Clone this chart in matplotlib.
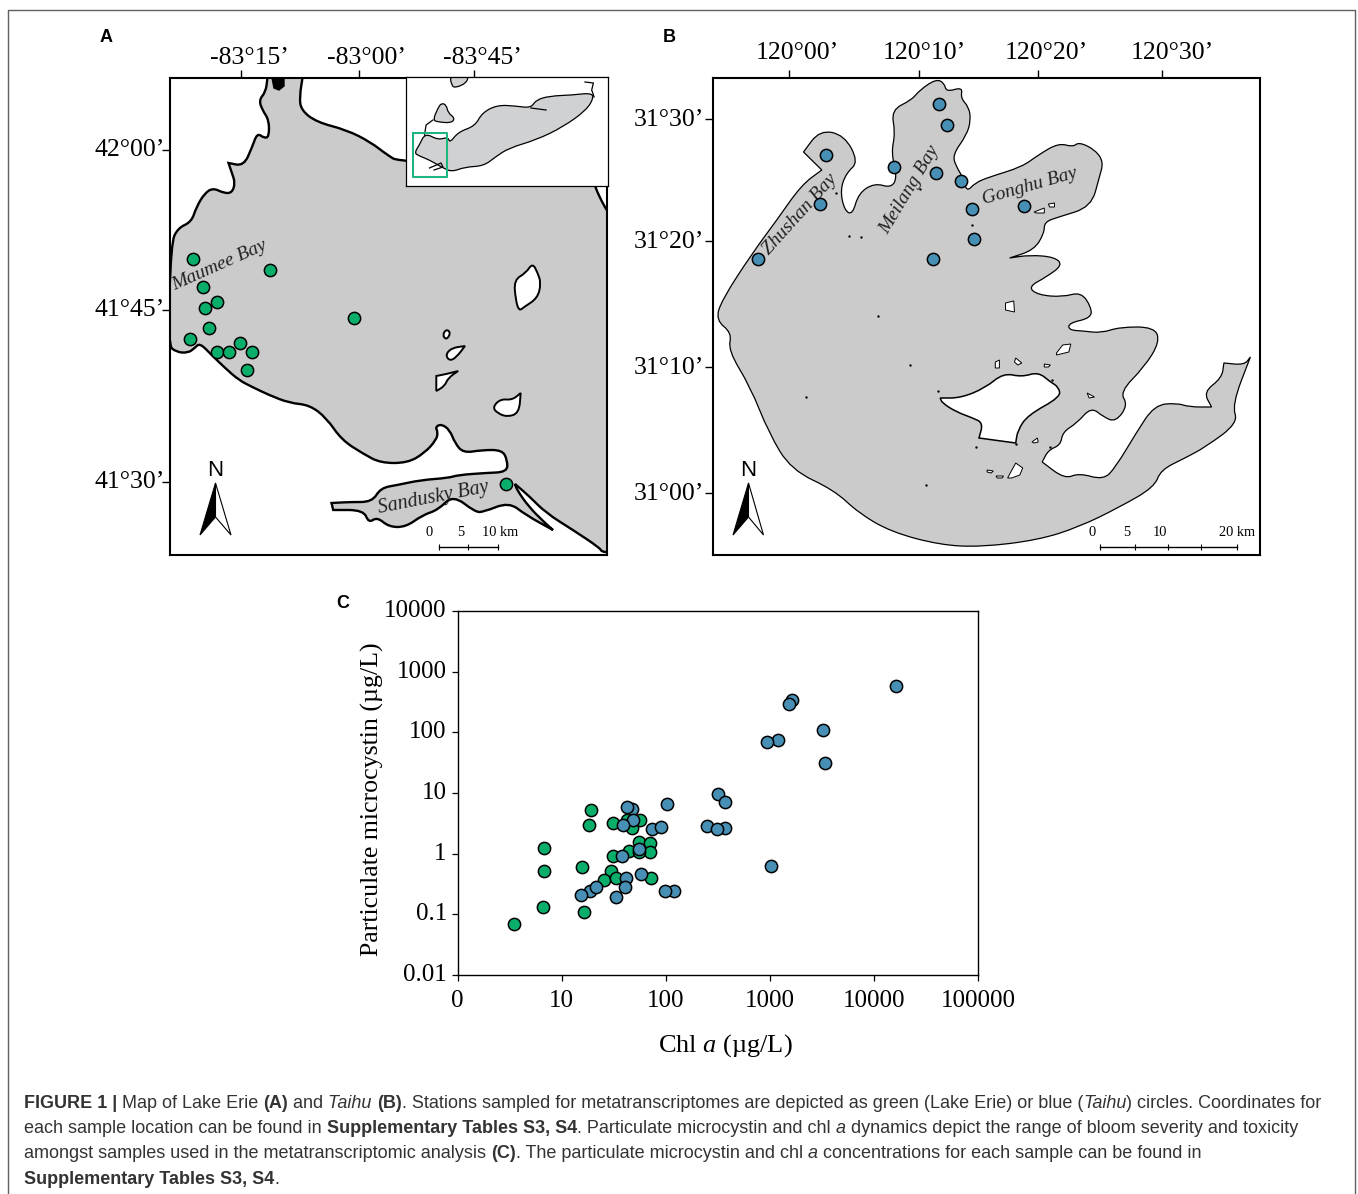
import numpy as np
import matplotlib
matplotlib.use('Agg')
import matplotlib.pyplot as plt
from matplotlib.path import Path
from matplotlib.patches import PathPatch
from matplotlib.transforms import ScaledTranslation

plt.rcParams['font.family'] = 'Liberation Serif'
plt.rcParams['mathtext.fontset'] = 'custom'
plt.rcParams['mathtext.rm'] = 'Liberation Serif'
plt.rcParams['mathtext.it'] = 'Liberation Serif:italic'

W, H = 1358, 1194
VERDE = '#0AAE6B'
AZUL = '#478FB4'
CINZA = '#CBCBCB'

# Painel C: valores
erie_chl = [3.5, 6.64, 6.84, 6.84, 16.3, 15.8, 18.4, 19.2, 30.9, 31.2, 29.9, 25.8, 33.3, 44, 42.5, 56.2, 47.4, 55, 70.6, 70.6, 55, 72.8]
erie_mc = [0.07, 0.131, 0.524, 1.24, 0.111, 0.61, 2.93, 5.24, 3.16, 0.9, 0.524, 0.372, 0.393, 1.11, 3.59, 3.59, 2.62, 1.56, 1.52, 1.08, 1.08, 0.397]
taihu_chl = [16200, 1630, 1513, 3252, 1204, 950, 3425, 320, 373, 249, 373, 308, 1038, 102, 47.8, 42.8, 48.9, 38.6, 73.3, 89.4, 55, 38, 57.9, 41.2, 40.7, 33, 18.9, 21.4, 15.5, 121, 97.7]
taihu_mc = [587, 345, 293, 110, 74.7, 68.5, 30.8, 9.62, 7.1, 2.82, 2.65, 2.52, 0.62, 6.59, 5.5, 5.81, 3.63, 2.97, 2.55, 2.78, 1.18, 0.925, 0.457, 0.397, 0.279, 0.191, 0.245, 0.282, 0.211, 0.243, 0.243]
xticks_c = [1, 10, 100, 1000, 10000, 100000]
xlabels_c = ['0', '10', '100', '1000', '10000', '100000']
yticks_c = [0.01, 0.1, 1, 10, 100, 1000, 10000]
ylabels_c = ['0.01', '0.1', '1', '10', '100', '1000', '10000']

# Painel A: contorno do lago (coordenadas da imagem)
erie_coast = [(267.4, 79), (265.6, 92), (259, 100), (262.3, 110), (269, 120), (269, 137), (264, 138), (257.2, 133),
              (252.2, 147), (243.7, 166), (228.5, 163), (228.5, 163), (231.9, 173), (235.2, 183), (231.9, 193), (223.5, 193),
              (213.3, 188), (204.8, 193), (196.4, 207), (191.4, 222), (177.9, 228), (171, 243), (168, 345),
              (176, 352), (188, 353), (194.7, 348), (199.8, 343), (211.6, 355), (225.1, 368), (238.7, 380),
              (252.2, 387), (269, 395), (289.4, 403), (309.6, 405), (326.5, 418), (341.7, 440), (363.6, 454),
              (380.6, 463), (407.5, 463), (424.5, 453), (436.3, 440), (437.9, 432), (435.3, 427), (441.4, 424),
              (449.8, 430), (454.9, 443), (463.3, 453), (481.9, 450), (502.2, 450), (507.3, 460), (507.3, 472),
              (485.3, 473), (458.2, 475), (448.1, 478), (421.1, 480), (397.4, 485), (380.6, 488), (372.1, 502),
              (350.2, 502), (331.5, 503), (331.5, 503), (333.2, 510), (333.2, 510), (363.6, 510), (368.7, 523), (377.1, 517), (389, 527),
              (405.9, 527), (422.7, 515), (437.9, 510), (453.1, 495), (475.1, 512), (483.5, 512), (508.9, 502),
              (525.8, 515), (553, 530), (553, 530), (544, 522), (529, 507), (517, 490), (515, 484), (515, 484), (529, 496), (546, 513),
              (573, 530), (600, 548), (601.8, 552), (610, 552), (610, 552), (610, 215), (610, 215), (603.5, 205), (595, 187),
              (590, 170), (399.1, 162), (387.3, 155), (370.4, 142), (346.7, 130), (316.3, 122), (301.1, 110),
              (299.5, 97), (302.8, 76), (302.8, 76), (267.4, 76), (267.4, 76)]
erie_blob = [(272, 78), (284, 78), (284, 86), (279, 90), (274, 88)]
erie_ilhas = [
    [(532.6, 263), (537.7, 273), (541, 283), (537.7, 298), (524.1, 307), (519, 311), (515.7, 300), (514, 280), (525.8, 273)],
    [(446.4, 329), (450.8, 333), (446.4, 340), (442.4, 335)],
    [(465, 346), (465, 346), (456.6, 357), (449.8, 361), (445.4, 355), (451.5, 348)],
    [(458.2, 371), (458.2, 371), (448.1, 378), (444.7, 386), (436.3, 391), (436.3, 391), (436.3, 376), (436.3, 376), (446.4, 374)],
    [(520.7, 393), (520.7, 393), (519, 413), (507.3, 417), (497.1, 413), (492.7, 407), (500.5, 399), (512.3, 400)],
]
est_a_x = [193, 270, 203, 217, 205, 354, 209, 190, 240, 217, 229, 252, 247, 506]
est_a_y = [259, 270, 287, 302, 308, 318, 328, 339, 343, 352, 352, 352, 370, 484]
xticks_a = [241, 358.6, 473.5]
xlabels_a = ['-83°15’', '-83°00’', '-83°45’']
xlabel_pos_a = [249, 367, 482]
yticks_a = [150, 310, 482]
ylabels_a = ['42°00’', '41°45’', '41°30’']

# Detalhe do lago inteiro
inset_lago = [(414.3, 153), (419.4, 145), (425.1, 133), (438, 140), (448.1, 137), (449.8, 143), (458.2, 132), (475.1, 126),
              (481.9, 113), (497.1, 105), (515.7, 106), (530.9, 108), (536, 100), (549.5, 96), (573.1, 95), (590, 93),
              (594.1, 97), (586.6, 110), (563, 127), (536, 140), (508.9, 148), (495.4, 157), (483.6, 166), (465, 167),
              (451.5, 172), (441.4, 167), (429.5, 160), (419.4, 156)]
inset_huron = [(449.8, 75), (468.4, 75), (466.7, 83), (454.9, 88), (451.5, 85)]
inset_clair = [(441.4, 103), (446.4, 105), (448.1, 113), (454.9, 118), (451.5, 123), (438, 122), (432.9, 120), (438, 108)]
inset_linhas = [
    [(432.9, 120), (426.1, 125), (424.5, 135)],
    [(585, 82), (593.4, 83), (591.7, 90), (594.1, 97)],
    [(530.9, 108), (546.1, 110)],
    [(429.5, 168), (441, 163), (443, 167), (434, 170)],
]
inset_caixa = [(412.6, 133), (446.8, 133), (446.8, 176.5), (412.6, 176.5), (412.6, 133)]

# Painel B: contorno do Taihu
taihu_coast = [(936.1, 79), (944.3, 83), (946.3, 92), (962.7, 87), (960.6, 98), (968.8, 107), (970.8, 120), (966.7, 135),
               (952.4, 155), (956.5, 167), (962.7, 177), (966.7, 192), (974.9, 183), (989.2, 177), (1021.8, 167),
               (1038.2, 155), (1058.6, 143), (1072.9, 147), (1079, 142), (1095.3, 150), (1103.5, 162), (1099.4, 177),
               (1091.2, 207), (1058.6, 217), (1044.3, 222), (1044.3, 233), (1034.1, 250), (1009.6, 258), (1009.6, 258), (1030, 255),
               (1054.5, 257), (1062.7, 265), (1046.3, 277), (1028, 287), (1038.2, 295), (1062.7, 297), (1081, 292),
               (1091.2, 307), (1091.2, 318), (1068.8, 323), (1068.8, 330), (1083.1, 331), (1101.4, 333), (1119.8, 327),
               (1154.5, 327), (1159.8, 342), (1144.3, 367), (1119.8, 392), (1128, 405), (1115.7, 422), (1103.5, 417),
               (1091.2, 407), (1077, 423), (1062.7, 432), (1060.6, 445), (1048.4, 450), (1042.2, 462), (1042.2, 462), (1064.7, 479),
               (1079, 473), (1103.5, 480), (1115.7, 467), (1136.1, 433), (1154.5, 405), (1176.9, 403), (1189.2, 407),
               (1211.6, 407), (1211.6, 407), (1203.5, 392), (1221.8, 378), (1223.9, 363), (1223.9, 363), (1244.3, 365), (1250.4, 357), (1250.4, 357), (1232, 405),
               (1238.2, 423), (1205.5, 447), (1185.1, 458), (1160.6, 470), (1154.5, 487), (1119.8, 507), (1079, 527),
               (1038.2, 540), (981, 547), (940.2, 545), (891.2, 532), (858.6, 513), (834.1, 490), (791.2, 470),
               (768.8, 433), (750.4, 387), (728, 350), (732, 333), (715.7, 320), (721.8, 300), (752.4, 253), (776.9, 220),
               (801.4, 185), (821.8, 170), (821.8, 170), (803.5, 152), (803.5, 152), (819.8, 130), (844.3, 135), (858.6, 162), (846.3, 173),
               (840.2, 190), (844.3, 210), (852.4, 215), (858.6, 193), (874.9, 183), (891.2, 188), (897.3, 177),
               (891.2, 153), (895.3, 133), (891.2, 110), (911.6, 100), (919.8, 90)]
taihu_grande = [(940.2, 398), (940.2, 398), (960.6, 398), (985.1, 388), (1003.5, 373), (1021.8, 377), (1038.2, 372), (1050.4, 382), (1058.6, 387),
                (1060.6, 397), (1028, 415), (1017.8, 430), (1015.7, 443), (1015.7, 443), (979, 438), (979, 438), (983.1, 423), (972.9, 418), (956.5, 412), (942.2, 403)]
taihu_ilhas = [
    [(1005.5, 303), (1013.7, 301), (1014.5, 312), (1005.5, 310)],
    [(1056.5, 353), (1062.7, 345), (1070.8, 344), (1068.8, 352), (1056.5, 355)],
    [(995.3, 362), (999.4, 360), (999.4, 368), (995.3, 368)],
    [(1015.7, 358), (1021.8, 363), (1017.8, 365), (1014.5, 362)],
    [(1044.3, 364), (1050.4, 365), (1048.4, 367), (1044.3, 367)],
    [(1087.1, 393), (1094.5, 397), (1089.2, 398)],
    [(1007.6, 478), (1015.7, 463), (1022.7, 468), (1019.8, 475), (1011.6, 478)],
    [(987.1, 470), (993.3, 471), (991.2, 473), (987.1, 472)],
    [(996.1, 476), (1003.5, 476), (1002.2, 478), (997.3, 478)],
    [(1032, 442), (1037.3, 438), (1038.2, 442), (1034.1, 443)],
    [(1034.1, 212), (1044.3, 208), (1044.3, 213), (1036.1, 213)],
    [(1048.4, 204), (1054.5, 203), (1054.5, 207), (1049.6, 207)],
]
pontinhos_x = [877.8, 909.6, 805.5, 938.2, 925.9, 1049.6, 1015.7, 976.1, 860.6, 849.2, 972, 836, 919.8, 1052.4]
pontinhos_y = [316, 365, 396.7, 390.7, 484.7, 446.7, 444, 446.7, 236.7, 235.7, 225, 193, 189.3, 380]
est_b_x = [826, 820, 758, 894, 936, 939, 947, 961, 972, 974, 933, 1024]
est_b_y = [155, 204, 259, 167, 173, 104, 125, 181, 209, 239, 259, 206]
xticks_b = [789.2, 918.6, 1038.2, 1161.8]
xlabels_b = ['120°00’', '120°10’', '120°20’', '120°30’']
xlabel_pos_b = [797, 924, 1046, 1172]
yticks_b = [119, 241, 367, 493]
ylabels_b = ['31°30’', '31°20’', '31°10’', '31°00’']

# Legenda
legenda = [
    [('FIGURE 1 | ', 'bold', 'normal'), ('Map of Lake Erie ', 'normal', 'normal'), ('(A)', 'bold', 'normal'),
     (' and ', 'normal', 'normal'), ('Taihu ', 'normal', 'italic'), ('(B)', 'bold', 'normal'),
     ('. Stations sampled for metatranscriptomes are depicted as green (Lake Erie) or blue (', 'normal', 'normal'),
     ('Taihu', 'normal', 'italic'), (') circles. Coordinates for', 'normal', 'normal')],
    [('each sample location can be found in ', 'normal', 'normal'), ('Supplementary Tables S3, S4', 'bold', 'normal'),
     ('. Particulate microcystin and chl ', 'normal', 'normal'), ('a', 'normal', 'italic'),
     (' dynamics depict the range of bloom severity and toxicity', 'normal', 'normal')],
    [('amongst samples used in the metatranscriptomic analysis ', 'normal', 'normal'), ('(C)', 'bold', 'normal'),
     ('. The particulate microcystin and chl ', 'normal', 'normal'), ('a', 'normal', 'italic'),
     (' concentrations for each sample can be found in', 'normal', 'normal')],
    [('Supplementary Tables S3, S4', 'bold', 'normal'), ('.', 'normal', 'normal')],
]
legenda_y = [1108, 1133, 1158.5, 1184]


def eixo_px(fig, esq, topo, dir, base):
    # eixo posicionado em pixels, com limites iguais aos pixels da imagem
    ax = fig.add_axes([esq / W, 1 - base / H, (dir - esq) / W, (base - topo) / H])
    ax.set_xlim(esq, dir)
    ax.set_ylim(base, topo)
    return ax


def contorno(ax, pts, cor, lw, z=2):
    # contorno fechado suavizado com curvas quadraticas entre os pontos medios
    pts = np.array(pts, dtype=float)
    prox = np.roll(pts, -1, axis=0)
    meios = (pts + prox) / 2
    verts = [meios[-1]]
    codes = [Path.MOVETO]
    for c, m in zip(pts, meios):
        verts += [c, m]
        codes += [Path.CURVE3, Path.CURVE3]
    ax.add_patch(PathPatch(Path(verts, codes), facecolor=cor, edgecolor='black', linewidth=lw, zorder=z))


def norte(ax, x, esq, dir):
    ax.fill([x, esq, x], [483, 535, 517], facecolor='black', edgecolor='black', linewidth=0.8, zorder=4)
    ax.fill([x, dir, x], [483, 535, 517], facecolor='white', edgecolor='black', linewidth=0.8, zorder=4)
    ax.text(x, 470, 'N', family='Liberation Sans', fontsize=16, ha='center', va='center', zorder=4)


def barra(ax, ticks, y):
    ax.plot([ticks[0], ticks[-1]], [y, y], color='black', lw=1, zorder=4)
    ax.vlines(ticks, y - 3, y + 3, color='black', lw=0.8, zorder=4)


def sobe_labels(ax, px):
    desloc = ScaledTranslation(0, px / 100, ax.figure.dpi_scale_trans)
    for lbl in ax.get_yticklabels():
        lbl.set_transform(lbl.get_transform() + desloc)


def estilo_mapa(ax, xticks, xlabels, xpos, ylabel_y, yticks, ylabels, pad):
    ax.xaxis.tick_top()
    ax.set_xticks(xticks)
    ax.set_xticklabels([])
    ax.set_yticks(yticks)
    ax.set_yticklabels(ylabels, fontsize=18.5)
    ax.tick_params(axis='both', length=5.5, width=1, color='black')
    ax.tick_params(axis='y', pad=pad)
    sobe_labels(ax, 2)
    for lado in ax.spines.values():
        lado.set_linewidth(1.5)
    for p, txt in zip(xpos, xlabels):
        ax.text(p, ylabel_y, txt, fontsize=18.5, ha='center', va='center', clip_on=False)


fig = plt.figure(figsize=(W / 100, H / 100), dpi=100)

# fundo: moldura, letras e legenda
fundo = fig.add_axes([0, 0, 1, 1])
fundo.set_xlim(0, W)
fundo.set_ylim(H, 0)
fundo.axis('off')
fundo.plot([8, 8, 1355, 1355], [H, 9.5, 9.5, H], color='#606060', lw=1)
for letra, lx, ly in [('A', 106, 37), ('B', 669, 37), ('C', 343, 604)]:
    fundo.text(lx, ly, letra, family='Liberation Sans', weight='bold', fontsize=13, ha='center', va='center')

rend = fig.canvas.get_renderer()
for linha, ly in zip(legenda, legenda_y):
    cx = 24
    for txt, peso, estilo in linha:
        fundo.text(cx, ly, txt, family='Liberation Sans', weight=peso, style=estilo, fontsize=12.95,
                   color='#333333', ha='left', va='baseline')
        # espacos no fim nao contam no extent, mede com um ponto no final
        t2 = fundo.text(0, 0, txt + '.', family='Liberation Sans', weight=peso, style=estilo, fontsize=12.95, alpha=0)
        t3 = fundo.text(0, 0, '.', family='Liberation Sans', weight=peso, style=estilo, fontsize=12.95, alpha=0)
        cx += t2.get_window_extent(rend).width - t3.get_window_extent(rend).width
        t2.remove()
        t3.remove()

# Painel A
ax_a = eixo_px(fig, 170, 78, 607, 555)
contorno(ax_a, erie_coast, CINZA, 1.7)
ax_a.fill([p[0] for p in erie_blob], [p[1] for p in erie_blob], color='black', zorder=3)
for ilha in erie_ilhas:
    contorno(ax_a, ilha, 'white', 1.4, 3)
ax_a.scatter(est_a_x, est_a_y, s=78, color=VERDE, edgecolor='black', linewidth=1.1, zorder=5)
estilo_mapa(ax_a, xticks_a, xlabels_a, xlabel_pos_a, 58, yticks_a, ylabels_a, -2)
ax_a.text(219, 265, 'Maumee Bay', style='italic', fontsize=14, rotation=24, ha='center', va='center', color='#222222', zorder=4)
ax_a.text(433, 498, 'Sandusky Bay', style='italic', fontsize=14.5, rotation=11, ha='center', va='center', color='#222222', zorder=4)
norte(ax_a, 215.5, 200, 231)
barra(ax_a, [439, 468.4, 498], 546.7)
for p, txt in zip([429.5, 460.6, 500], ['0', '5', '10 km']):
    ax_a.text(p, 532, txt, fontsize=10.4, ha='center', va='center', zorder=4)

# Detalhe
ins = eixo_px(fig, 406, 77, 608, 186)
ins.set_xticks([])
ins.set_yticks([])
for lado in ins.spines.values():
    lado.set_linewidth(0.9)
for forma in [inset_lago, inset_huron, inset_clair]:
    contorno(ins, forma, '#D0D1D3', 0.9)
for lin in inset_linhas:
    lin = np.array(lin)
    ins.plot(lin[:, 0], lin[:, 1], color='black', lw=0.9, zorder=3)
caixa = np.array(inset_caixa)
ins.plot(caixa[:, 0], caixa[:, 1], color='#1FB57E', lw=1.5, zorder=4)

# Painel B
ax_b = eixo_px(fig, 713, 78, 1260, 555)
contorno(ax_b, taihu_coast, CINZA, 0.9)
contorno(ax_b, taihu_grande, 'white', 1.1, 3)
for ilha in taihu_ilhas:
    # ilhas pequenas ficam sem suavizar para nao encolher
    ilha = np.array(ilha)
    ax_b.fill(ilha[:, 0], ilha[:, 1], facecolor='white', edgecolor='black', linewidth=0.7, zorder=3)
ax_b.scatter(pontinhos_x, pontinhos_y, s=3, color='black', linewidth=0, zorder=3)
ax_b.scatter(est_b_x, est_b_y, s=78, color=AZUL, edgecolor='black', linewidth=1.1, zorder=5)
estilo_mapa(ax_b, xticks_b, xlabels_b, xlabel_pos_b, 53, yticks_b, ylabels_b, 1)
ax_b.text(800, 214, 'Zhushan Bay', style='italic', fontsize=14, rotation=48, ha='center', va='center', color='#222222', zorder=4)
ax_b.text(910, 190, 'Meilang Bay', style='italic', fontsize=14, rotation=59, ha='center', va='center', color='#222222', zorder=4)
ax_b.text(1030, 186, 'Gonghu Bay', style='italic', fontsize=14, rotation=16, ha='center', va='center', color='#222222', zorder=4)
norte(ax_b, 748.5, 733, 763.5)
barra(ax_b, [1100.2, 1134.5, 1168.4, 1201.4, 1237], 547.3)
for p, txt in zip([1092.4, 1126.7, 1159.4, 1237.3], ['0', '5', '10', '20 km']):
    ax_b.text(p, 533, txt, fontsize=10.4, ha='center', va='center', zorder=4)

# Painel C
ax_c = eixo_px(fig, 457.5, 611, 978, 975)
ax_c.set_xscale('log')
ax_c.set_yscale('log')
ax_c.set_xlim(1, 100000)
ax_c.set_ylim(0.01, 10000)
ax_c.scatter(erie_chl, erie_mc, s=78, color=VERDE, edgecolor='black', linewidth=1.1, zorder=3, clip_on=False)
ax_c.scatter(taihu_chl, taihu_mc, s=78, color=AZUL, edgecolor='black', linewidth=1.1, zorder=4, clip_on=False)
ax_c.set_xticks(xticks_c)
ax_c.set_xticklabels(xlabels_c, fontsize=18)
ax_c.set_yticks(yticks_c)
ax_c.set_yticklabels(ylabels_c, fontsize=18)
ax_c.minorticks_off()
ax_c.tick_params(axis='both', length=4, width=0.9)
ax_c.tick_params(axis='x', pad=6.5)
ax_c.tick_params(axis='y', pad=3.7)
sobe_labels(ax_c, 2.5)
for lado in ax_c.spines.values():
    lado.set_linewidth(1)
ax_c.set_xlabel('Chl $\\mathit{a}$ (µg/L)', fontsize=19)
ax_c.xaxis.set_label_coords(0.514, -0.1566)
ax_c.set_ylabel('Particulate microcystin (µg/L)', fontsize=18.6)
ax_c.yaxis.set_label_coords(-0.142, 0.4835)

fig.savefig('out.png', dpi=100)
